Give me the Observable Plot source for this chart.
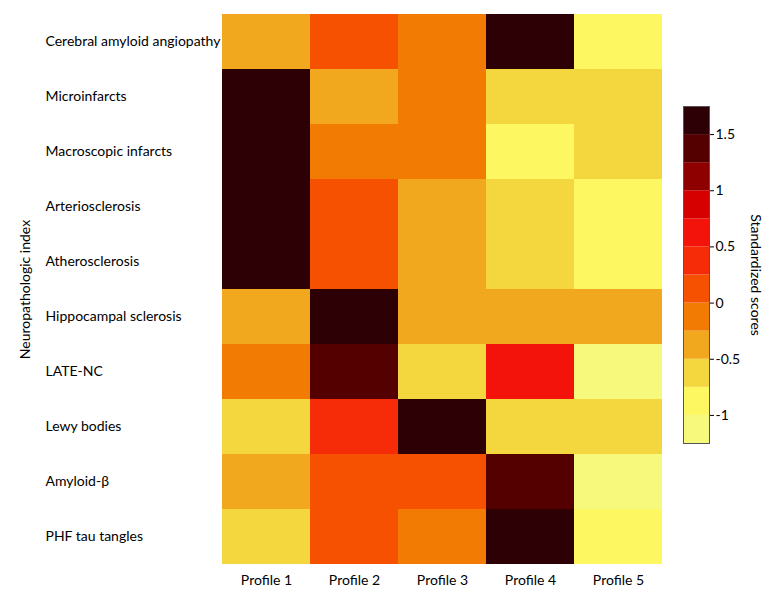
<!DOCTYPE html>
<html>
<head>
<meta charset="utf-8">
<script src="https://cdn.jsdelivr.net/npm/d3@7"></script>
<script src="https://cdn.jsdelivr.net/npm/@observablehq/plot@0.6"></script>
<style>
  body { margin: 0; background: #fff; }
  #wrap { position: relative; width: 780px; height: 598px; }
  #wrap svg { position: absolute; top: 0; }
</style>
</head>
<body>
<div id="wrap"></div>
<script>
const profiles = ["Profile 1", "Profile 2", "Profile 3", "Profile 4", "Profile 5"];
const indices = ["Cerebral amyloid angiopathy", "Microinfarcts", "Macroscopic infarcts", "Arteriosclerosis", "Atherosclerosis", "Hippocampal sclerosis", "LATE-NC", "Lewy bodies", "Amyloid-β", "PHF tau tangles"];
// standardized scores per index (rows), per profile (columns)
const cerebralAmyloidAngiopathy = [-0.38, 0.12, -0.12, 1.62, -0.88];
const microinfarcts = [1.62, -0.38, -0.12, -0.62, -0.62];
const macroscopicInfarcts = [1.62, -0.12, -0.12, -0.88, -0.62];
const arteriosclerosis = [1.62, 0.12, -0.38, -0.62, -0.88];
const atherosclerosis = [1.62, 0.12, -0.38, -0.62, -0.88];
const hippocampalSclerosis = [-0.38, 1.62, -0.38, -0.38, -0.38];
const lateNC = [-0.12, 1.38, -0.62, 0.62, -1.12];
const lewyBodies = [-0.62, 0.38, 1.62, -0.62, -0.62];
const amyloidBeta = [-0.38, 0.12, 0.12, 1.38, -1.12];
const phfTauTangles = [-0.62, 0.12, -0.12, 1.62, -0.88];
const rowsValues = [cerebralAmyloidAngiopathy, microinfarcts, macroscopicInfarcts, arteriosclerosis, atherosclerosis, hippocampalSclerosis, lateNC, lewyBodies, amyloidBeta, phfTauTangles];

// color legend bins
const binEdges = [-1.25, -1, -0.75, -0.5, -0.25, 0, 0.25, 0.5, 0.75, 1, 1.25, 1.5, 1.75];
const binColors = ["#f6f97b", "#fdf762", "#f4d63e", "#f2a81e", "#f27b04", "#f55101", "#f62c08", "#f4130a", "#d70000", "#8e0000", "#550000", "#2c0005"];
const legendTicks = [-1, -0.5, 0, 0.5, 1, 1.5];

const cells = [];
indices.forEach((idx, i) => profiles.forEach((p, j) => cells.push({index: idx, profile: p, value: rowsValues[i][j]})));

const thresholds = binEdges.slice(1, -1);
const font = "Lato, sans-serif";
const fs = 14;

const main = Plot.plot({
  width: 680,
  height: 598,
  marginLeft: 221,
  marginRight: 17,
  marginTop: 12,
  marginBottom: 32,
  style: {fontFamily: font, fontSize: fs + "px", color: "#000", background: "transparent"},
  x: {domain: profiles, padding: 0, label: null},
  y: {domain: indices, padding: 0, label: "Neuropathologic index"},
  color: {type: "threshold", domain: thresholds, range: binColors},
  marks: [
    Plot.cell(cells, {x: "profile", y: "index", fill: "value", inset: 0}),
    Plot.axisX({tickSize: 0, tickPadding: 9, fontSize: fs}),
    Plot.axisY({tickSize: 0, tickPadding: 0, textAnchor: "start", dx: -176, fontSize: fs, label: "Neuropathologic index", labelAnchor: "center", labelArrow: "none", labelOffset: 201})
  ]
});
main.style.left = "0px";

const bins = binColors.map((c, i) => ({lo: binEdges[i], hi: binEdges[i + 1], color: c}));
const legend = Plot.plot({
  width: 110,
  height: 598,
  marginLeft: 13,
  marginRight: 71,
  marginTop: 106,
  marginBottom: 155,
  style: {fontFamily: font, fontSize: fs + "px", color: "#000", background: "transparent"},
  x: {domain: [0, 1], axis: null},
  y: {domain: [-1.25, 1.75], label: null},
  marks: [
    Plot.rectY(bins, {x1: 0, x2: 1, y1: "lo", y2: "hi", fill: "color"}),
    Plot.frame({stroke: "#555", strokeWidth: 1}),
    Plot.axisY({anchor: "right", ticks: legendTicks, tickFormat: d => String(d), tickSize: 4, tickPadding: 2, fontSize: fs, label: null}),
    Plot.text(["Standardized scores"], {frameAnchor: "right", dx: 46, rotate: 90, textAnchor: "middle", lineAnchor: "middle", fontSize: fs})
  ]
});
legend.style.left = "670px";

const wrap = document.getElementById("wrap");
wrap.appendChild(main);
wrap.appendChild(legend);
</script>
</body>
</html>
